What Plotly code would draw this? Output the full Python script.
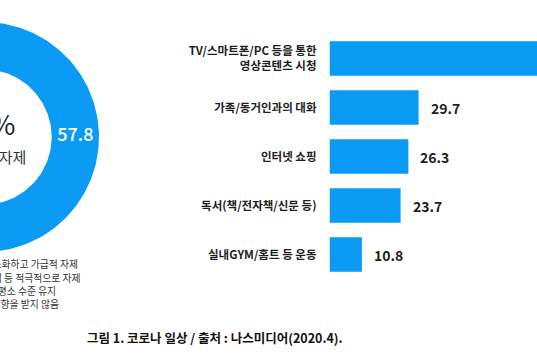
import math
import plotly.graph_objects as go

# ---------------- data ----------------
bar_categories = [
    "TV/스마트폰/PC 등을 통한<br>영상콘텐츠 시청",
    "가족/동거인과의 대화",
    "인터넷 쇼핑",
    "독서(책/전자책/신문 등)",
    "실내GYM/홈트 등 운동",
]
bar_values = [72.0, 29.7, 26.3, 23.7, 10.8]

donut_labels = ["외출을 최대한 최소화하고 가급적 자제"]
donut_values = [57.8]
donut_center_value = "57.8%"
donut_center_label = "가급적 자제"

legend_items = [
    "외출을 최대한 최소화하고 가급적 자제",
    "모임, 여행, 외식 등 적극적으로 자제",
    "외출 등 일상은 평소 수준 유지",
    "코로나로 인한 영향을 받지 않음",
]
caption = "그림 1. 코로나 일상 / 출처 : 나스미디어(2020.4)."

# ---------------- style ----------------
W, H = 537, 360
BLUE = "#0b9bf5"
FONT = "Noto Sans CJK KR"
TXT = "#1e1e1e"

# donut geometry in pixel units (centre lies left of the visible area)
cx, cy, R_out, R_in = -16, 137, 115, 67.7
rotation_mid = 90.0  # first slice centred at 3 o'clock

fig = go.Figure()

# ---- donut slices drawn on a pixel cartesian axis ----
start = rotation_mid - donut_values[0] * 3.6 / 2
for lab, val in zip(donut_labels, donut_values):
    a0, a1 = start, start + val * 3.6
    n = 160
    angs = [a0 + (a1 - a0) * i / n for i in range(n + 1)]
    xs = [cx + R_out * math.sin(math.radians(a)) for a in angs]
    ys = [cy - R_out * math.cos(math.radians(a)) for a in angs]
    xs += [cx + R_in * math.sin(math.radians(a)) for a in reversed(angs)]
    ys += [cy - R_in * math.cos(math.radians(a)) for a in reversed(angs)]
    fig.add_trace(go.Scatter(x=xs, y=ys, xaxis="x", yaxis="y", mode="lines",
                             fill="toself", fillcolor=BLUE, line=dict(width=0),
                             hoverinfo="skip", showlegend=False, name=lab))
    mid = math.radians((a0 + a1) / 2)
    rm = (R_out + R_in) / 2
    fig.add_trace(go.Scatter(x=[cx + rm * math.sin(mid)], y=[cy - rm * math.cos(mid) - 1],
                             xaxis="x", yaxis="y", mode="text", text=[f"{val}"],
                             textfont=dict(family=FONT, size=18, color="white", weight=500),
                             hoverinfo="skip", showlegend=False))
    start = a1

# ---- bar chart ----
fig.add_trace(go.Bar(
    x=bar_values, y=bar_categories, orientation="h", xaxis="x2", yaxis="y2",
    marker=dict(color=BLUE, line=dict(width=0)), hoverinfo="skip", showlegend=False,
))

annotations = []
for c, v in zip(bar_categories, bar_values):
    annotations.append(dict(x=v, y=c, xref="x2", yref="y2", text=f"{v}", showarrow=False,
                            xanchor="left", xshift=10,
                            font=dict(family=FONT, size=14, color=TXT, weight=700)))

# donut centre text (centre of the donut is off the left edge)
annotations.append(dict(x=17 / W, y=1 - 123 / H, xref="paper", yref="paper", text=donut_center_value,
                        showarrow=False, xanchor="right", yanchor="middle",
                        font=dict(family=FONT, size=27, color=TXT)))
annotations.append(dict(x=28 / W, y=1 - 156 / H, xref="paper", yref="paper", text=donut_center_label,
                        showarrow=False, xanchor="right", yanchor="middle",
                        font=dict(family=FONT, size=15, color="#333333")))

# legend lines (left part cut off by the image edge)
leg_right = [80, 83, 58, 61]
leg_y = [264, 277.5, 290.5, 303.5]
for t, xr, yy in zip(legend_items, leg_right, leg_y):
    annotations.append(dict(x=xr / W, y=1 - yy / H, xref="paper", yref="paper", text=t,
                            showarrow=False, xanchor="right", yanchor="middle",
                            font=dict(family=FONT, size=9.8, color="#333333")))

# caption
annotations.append(dict(x=215 / W, y=1 - 337.5 / H, xref="paper", yref="paper", text=caption,
                        showarrow=False, xanchor="center", yanchor="middle",
                        font=dict(family=FONT, size=12.5, color="#111111", weight=700)))

bar_x0 = 329.5
px_per_unit = 3.0
fig.update_layout(
    width=W, height=H,
    margin=dict(l=0, r=0, t=0, b=0),
    paper_bgcolor="white", plot_bgcolor="rgba(0,0,0,0)",
    font=dict(family=FONT),
    xaxis=dict(domain=[0, 1], range=[0, W], visible=False, fixedrange=True),
    yaxis=dict(domain=[0, 1], range=[H, 0], visible=False, fixedrange=True),
    xaxis2=dict(domain=[bar_x0 / W, 1], range=[0, (W - bar_x0) / px_per_unit], visible=False,
                anchor="y2", fixedrange=True),
    yaxis2=dict(domain=[1 - 279 / H, 1 - 34 / H], anchor="x2", type="category",
                range=[len(bar_categories) - 0.5, -0.5], showgrid=False, showline=False,
                zeroline=False, ticks="", ticklabelstandoff=12,
                tickfont=dict(family=FONT, size=11.5, color=TXT, weight=700), fixedrange=True),
    bargap=0.3,
    annotations=annotations,
)

fig.write_html("out.html", config={"displayModeBar": False},
               post_script="document.body.style.margin='0px';")
